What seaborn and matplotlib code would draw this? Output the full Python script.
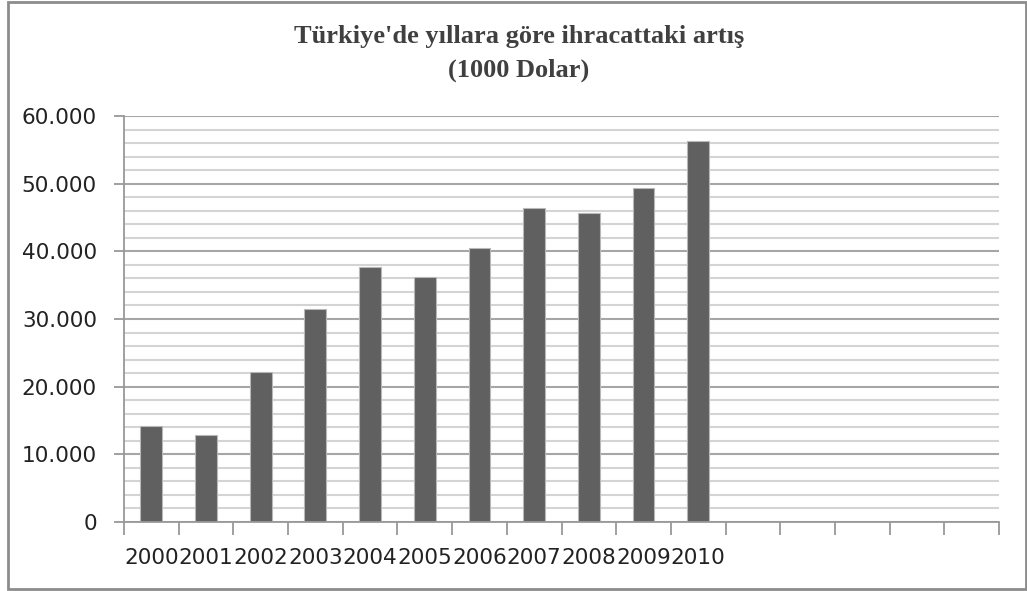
import matplotlib
matplotlib.use("Agg")
import matplotlib.pyplot as plt
import seaborn as sns
import pandas as pd
import numpy as np
from matplotlib.ticker import MultipleLocator, FuncFormatter, FixedLocator
from matplotlib.patches import Rectangle

years = ["2000", "2001", "2002", "2003", "2004", "2005", "2006",
         "2007", "2008", "2009", "2010"]
exports = [14200, 12900, 22200, 31500, 37700, 36200, 40500,
           46400, 45700, 49300, 56300]
n_slots = 16  # chart has 16 category slots, last 5 empty

title_line1 = "Türkiye'de yıllara göre ihracattaki artış"
title_line2 = "(1000 Dolar)"

sns.set_style("white")
plt.rcParams['font.family'] = ['DejaVu Sans']

df = pd.DataFrame({"year": years, "value": exports})

fig = plt.figure(figsize=(10.27, 5.91), dpi=100)
ax = fig.add_axes([124/1027, (591-522)/591, 875/1027, 406/591])

ax.set_axisbelow(True)
ax.set_ylim(0, 60000)
ax.yaxis.set_major_locator(MultipleLocator(10000))
ax.yaxis.set_minor_locator(MultipleLocator(2000))
ax.grid(True, axis="y", which="major", color="#a6a6a6", linewidth=1.5)
ax.grid(True, axis="y", which="minor", color="#d4d4d4", linewidth=1.5)

sns.barplot(data=df, x="year", y="value", order=years, color="#606060",
            saturation=1, width=0.4, edgecolor="#b8b8b8", linewidth=0.8, ax=ax)

ax.set_xlim(-0.5, n_slots - 0.5)
ax.set_xlabel("")
ax.set_ylabel("")

ax.xaxis.set_major_locator(FixedLocator(range(len(years))))
ax.set_xticklabels(years)
ax.xaxis.set_minor_locator(FixedLocator(np.arange(-0.5, n_slots, 1.0)))
ax.tick_params(axis="x", which="major", length=0, pad=18.5, labelsize=15.6, colors="#222222")
ax.tick_params(axis="x", which="minor", length=9, width=1.3, color="#999999", direction="out", bottom=True)
ax.tick_params(axis="y", which="major", length=7, width=1.3, color="#999999", pad=12.5,
               labelsize=15.6, labelcolor="#222222", left=True)
ax.tick_params(axis="y", which="minor", length=0)

ax.yaxis.set_major_formatter(FuncFormatter(lambda v, p: f"{int(v):,}".replace(",", ".")))

for side in ["top", "right"]:
    ax.spines[side].set_visible(False)
for side in ["left", "bottom"]:
    ax.spines[side].set_color("#999999")
    ax.spines[side].set_linewidth(1.3)

fig.text(519/1027, 1 - 37/591, title_line1, ha="center", va="center",
         fontsize=19, fontweight="bold", family="Liberation Serif", color="#404040")
fig.text(519/1027, 1 - 70/591, title_line2, ha="center", va="center",
         fontsize=19, fontweight="bold", family="Liberation Serif", color="#404040")

border = Rectangle((8/1027, 2/591), (1026-8)/1027, (589-2)/591, transform=fig.transFigure,
                   fill=False, edgecolor="#8c8c8c", linewidth=2)
fig.patches.append(border)

fig.savefig("out.png", dpi=100)
